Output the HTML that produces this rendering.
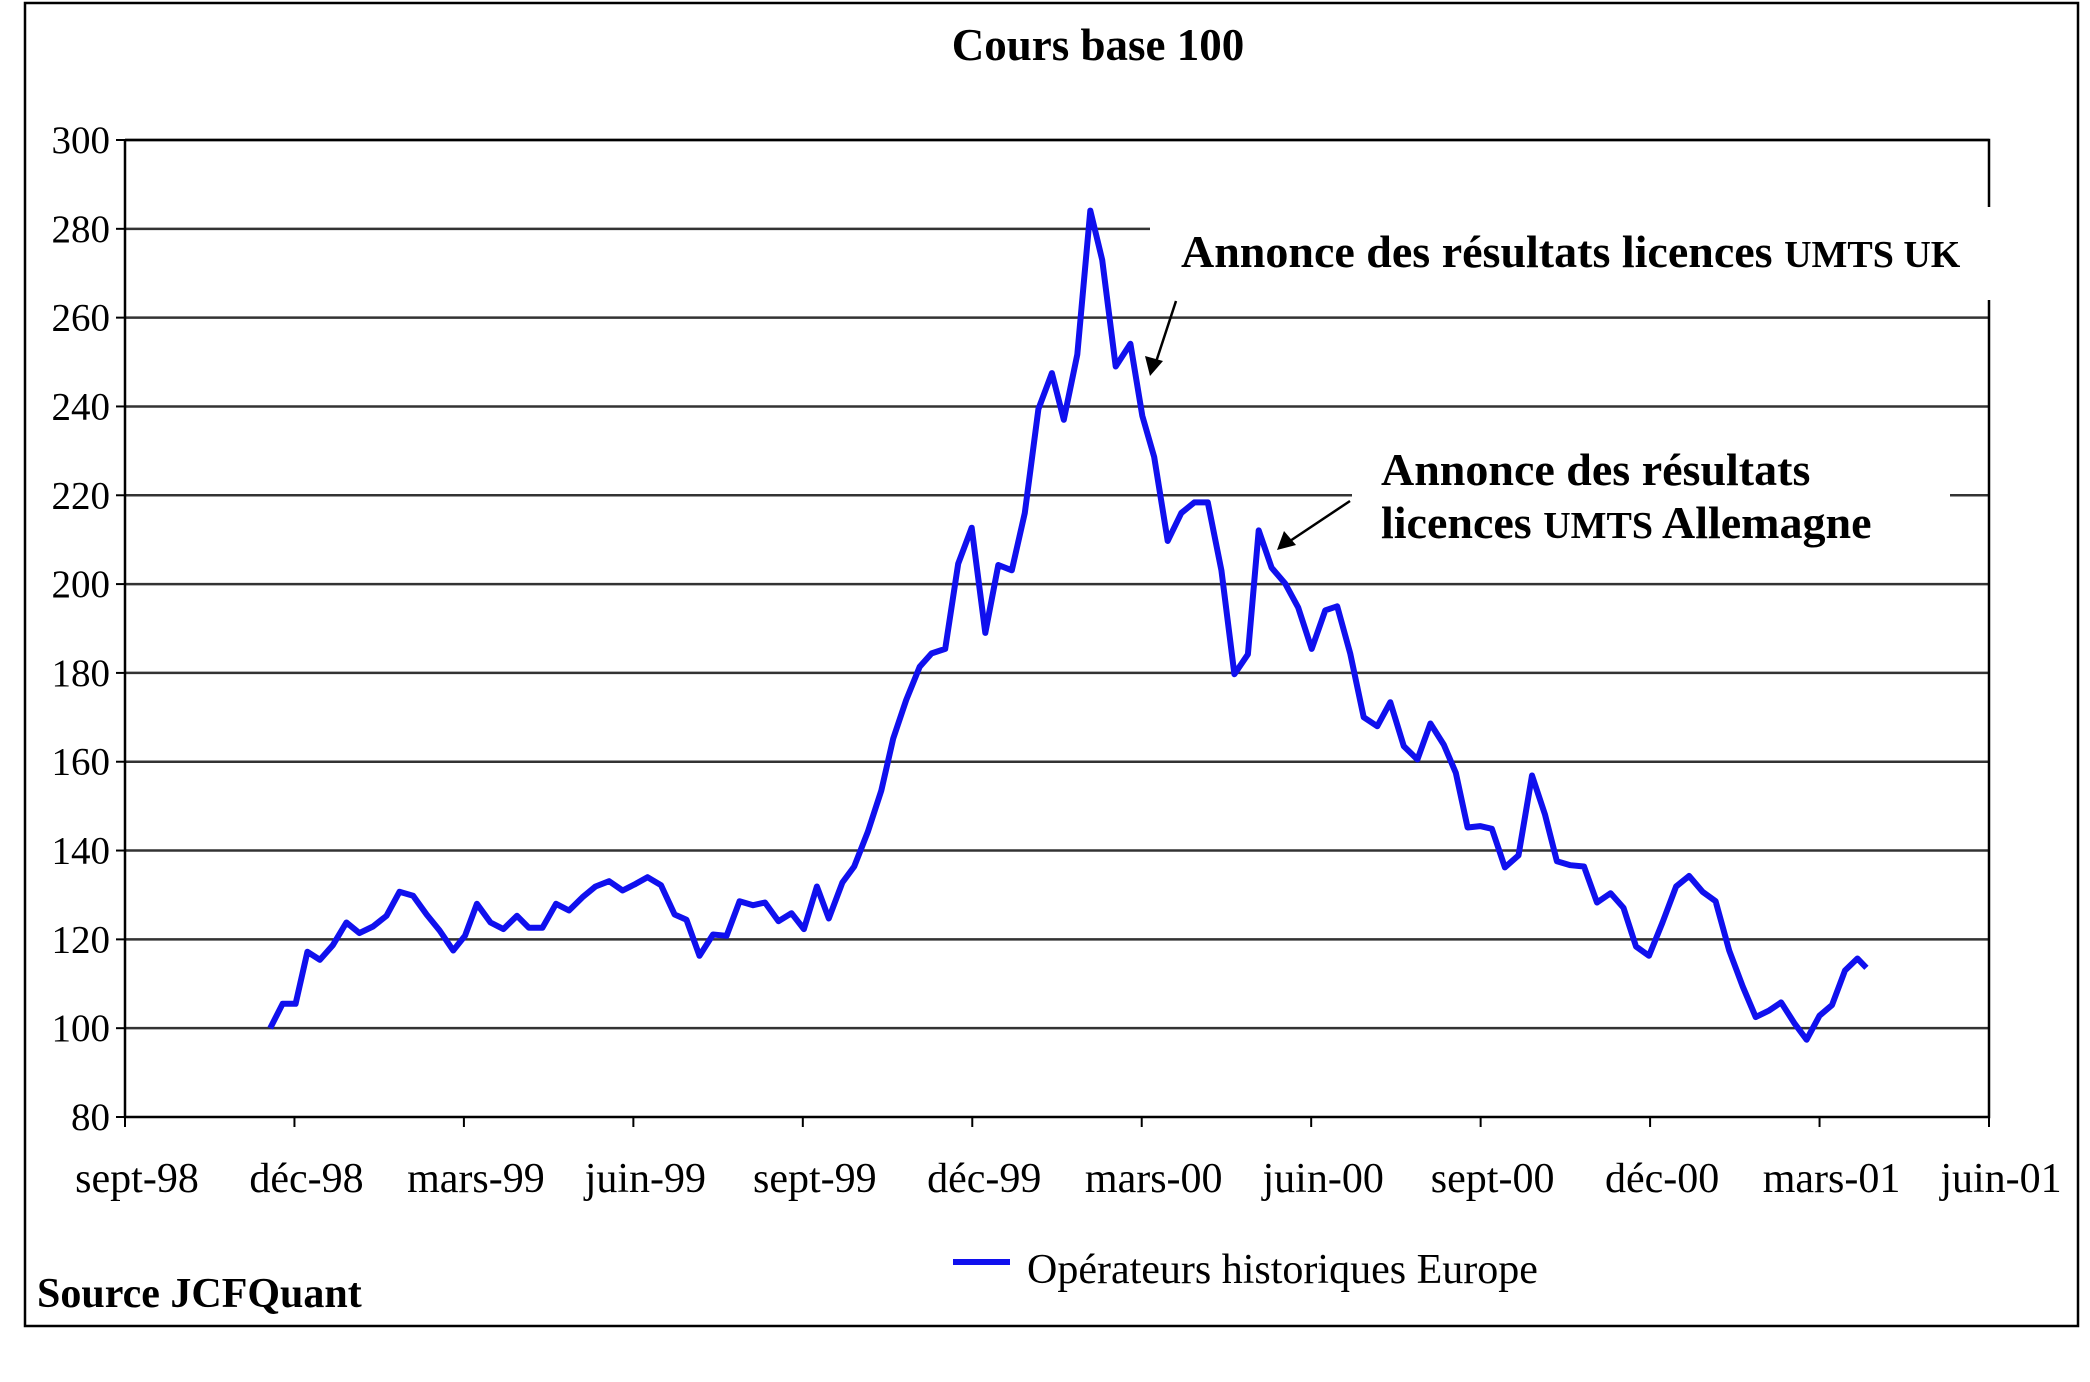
<!DOCTYPE html>
<html><head><meta charset="utf-8"><style>
body{margin:0;background:#fff}
svg{display:block}
text{font-family:"Liberation Serif",serif}
</style></head><body>
<svg id="chart" width="2090" height="1382" viewBox="0 0 2090 1382" xmlns="http://www.w3.org/2000/svg">
<rect x="25" y="3" width="2053" height="1323" fill="#fff" stroke="#000" stroke-width="2.5"/>
<text x="1098" y="60" text-anchor="middle" font-size="45" font-weight="bold">Cours base 100</text>
<g id="grid"></g>
<g id="axes"></g>
<path id="series" fill="none" stroke="#1010ee" stroke-width="6" stroke-linejoin="round"/>
<rect x="1150" y="207" width="845" height="93" fill="#fff"/>
<rect x="1352" y="443" width="598" height="105" fill="#fff"/>
<text x="1181" y="267" font-size="46" font-weight="bold">Annonce des résultats licences <tspan font-size="38">UMTS UK</tspan></text>
<text x="1381" y="485" font-size="46" font-weight="bold">Annonce des résultats</text>
<text x="1381" y="538" font-size="46" font-weight="bold">licences <tspan font-size="38">UMTS</tspan> Allemagne</text>
<line x1="1176" y1="301" x2="1156" y2="362" stroke="#000" stroke-width="2.5"/>
<polygon points="1150,376 1145,356 1163,361" fill="#000"/>
<line x1="1350" y1="501" x2="1290" y2="541" stroke="#000" stroke-width="2.5"/>
<polygon points="1277,550 1284,531 1296,545" fill="#000"/>
<line x1="953" y1="1262" x2="1010" y2="1262" stroke="#1010ee" stroke-width="6"/>
<text x="1027" y="1283" font-size="42">Opérateurs historiques Europe</text>
<text x="37" y="1307" font-size="42" font-weight="bold">Source JCFQuant</text>
</svg>
<script>
const months = [2.57,2.79,3.02,3.23,3.45,3.68,3.92,4.15,4.39,4.63,4.86,5.10,5.34,5.57,5.81,6.02,6.23,6.47,6.70,6.94,7.15,7.39,7.63,7.86,8.10,8.33,8.57,8.81,9.04,9.25,9.49,9.73,9.94,10.17,10.41,10.65,10.88,11.12,11.33,11.57,11.80,12.02,12.25,12.46,12.70,12.91,13.15,13.39,13.60,13.83,14.07,14.28,14.52,14.75,14.99,15.23,15.46,15.70,15.93,16.17,16.41,16.62,16.86,17.09,17.30,17.54,17.80,18.01,18.22,18.46,18.70,18.93,19.17,19.41,19.64,19.88,20.07,20.30,20.54,20.77,21.01,21.25,21.46,21.69,21.93,22.17,22.40,22.64,22.88,23.11,23.35,23.56,23.77,23.99,24.20,24.43,24.67,24.91,25.14,25.35,25.59,25.83,26.06,26.30,26.53,26.75,26.98,27.22,27.46,27.69,27.93,28.16,28.40,28.64,28.87,29.11,29.32,29.56,29.77,30.00,30.22,30.45,30.67,30.83];
const values = [100,105.5,105.5,117.2,115.4,118.7,123.8,121.4,122.9,125.3,130.7,129.8,125.6,122,117.5,120.8,128,123.8,122.3,125.3,122.6,122.6,128,126.5,129.5,131.9,133.1,131,132.5,134,132.2,125.6,124.4,116.3,121.1,120.8,128.6,127.7,128.3,124.1,125.9,122.3,131.9,124.7,132.8,136.4,144.2,153.5,165.2,173.9,181.4,184.4,185.4,204.6,212.7,189,204.3,203.1,216,239.4,247.5,237,251.7,284.1,273,249,254.1,237.9,228.6,209.7,216,218.4,218.4,203.1,179.7,184.2,212.1,203.7,200.1,194.7,185.4,194.1,195,184.4,170,168,173.4,163.5,160.5,168.6,163.8,157.5,145.2,145.5,144.9,136.2,138.9,156.9,148.1,137.6,136.7,136.4,128.3,130.4,127.1,118.4,116.3,123.8,131.9,134.3,130.7,128.6,117.5,109.4,102.5,104,105.8,101,97.4,102.8,105.2,113,115.7,113.6];
const yTicks = [80,100,120,140,160,180,200,220,240,260,280,300];
const xTickLabels = ["sept-98","déc-98","mars-99","juin-99","sept-99","déc-99","mars-00","juin-00","sept-00","déc-00","mars-01","juin-01"];
const L=125,R=1989,T=140,B=1117;
const xs=m=>L+(R-L)*m/33;
const ys=v=>B-(B-T)*(v-80)/220;
const NS="http://www.w3.org/2000/svg";
const grid=document.getElementById('grid'), axes=document.getElementById('axes');
function mk(tag,attrs,parent){const e=document.createElementNS(NS,tag);for(const k in attrs)e.setAttribute(k,attrs[k]);parent.appendChild(e);return e;}
yTicks.forEach(v=>{
  const y=ys(v);
  if(v>80){
    let x2=R;
    if(v===280)x2=1150;
    const g=mk('line',{x1:L,y1:y,x2:x2,y2:y,stroke:'#333','stroke-width':2.5},grid);
    
    
  }
  const t=mk('line',{x1:L-9,y1:y,x2:L,y2:y,stroke:'#000','stroke-width':2},axes);
  
  
  const lb=mk('text',{x:L-15,y:y+13,'text-anchor':'end','font-size':39},axes);
  lb.textContent=v;
  
  
});
xTickLabels.forEach((s,i)=>{
  const x=xs(i*3);
  const t=mk('line',{x1:x,y1:B,x2:x,y2:B+10,stroke:'#000','stroke-width':2},axes);
  
  
  const lb=mk('text',{x:x+12,y:1192,'text-anchor':'middle','font-size':42},axes);
  lb.textContent=s;
  
  
});
const ax=mk('path',{d:`M${L},${T} L${L},${B} L${R},${B} L${R},${T} L${L},${T}`,fill:'none',stroke:'#000','stroke-width':2.5},axes);


document.getElementById('series').setAttribute('d',months.map((m,i)=>(i?'L':'M')+xs(m).toFixed(1)+','+ys(values[i]).toFixed(1)).join(' '));
</script>
</body></html>
